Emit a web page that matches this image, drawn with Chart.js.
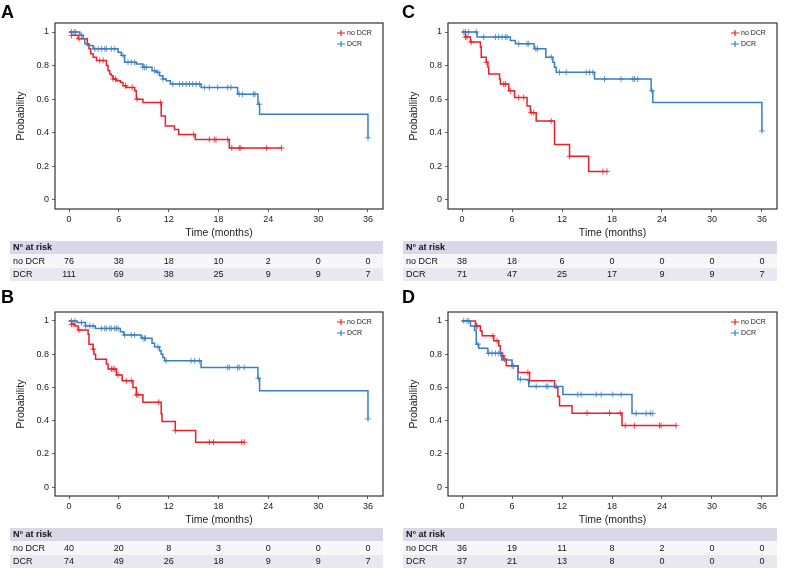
<!DOCTYPE html>
<html>
<head>
<meta charset="utf-8">
<script src="https://cdn.jsdelivr.net/npm/chart.js@4.4.0/dist/chart.umd.min.js"></script>
<style>
  body { margin: 0; background: #fff; width: 787px; height: 581px; position: relative; overflow: hidden; }
  canvas { position: absolute; }
</style>
</head>
<body>
<canvas id="chartA" width="393" height="288" style="left:0;top:0"></canvas>
<canvas id="chartC" width="394" height="288" style="left:393px;top:0"></canvas>
<canvas id="chartB" width="393" height="293" style="left:0;top:288px"></canvas>
<canvas id="chartD" width="394" height="293" style="left:393px;top:288px"></canvas>
<script>
// shared axis ticks
const xTicks = [0, 6, 12, 18, 24, 30, 36];
const yTicks = [0, 0.2, 0.4, 0.6, 0.8, 1];
const seriesNames = ['no DCR', 'DCR'];

// Panel A
const aNoTime = [0.3, 1.1, 2.2, 2.4, 2.6, 2.9, 3.3, 4.5, 4.7, 4.9, 5.1, 5.3, 5.7, 6.2, 6.5, 6.9, 7.9, 8.1, 8.9, 11.1, 11.6, 12.7, 13.2, 15.2, 19.3];
const aNoSurv = [0.98, 0.96, 0.93, 0.90, 0.87, 0.85, 0.83, 0.80, 0.77, 0.75, 0.74, 0.72, 0.71, 0.70, 0.68, 0.67, 0.65, 0.60, 0.58, 0.50, 0.44, 0.42, 0.39, 0.36, 0.31];
const aNoCens = [0.3, 1.2, 3.7, 4.1, 5.3, 5.6, 6.8, 7.6, 8.2, 11.0, 15.0, 16.9, 17.5, 17.7, 19.1, 19.6, 20.5, 20.7, 23.8, 25.6];
const aDcrTime = [1.3, 1.7, 1.9, 2.2, 2.9, 5.9, 6.3, 6.7, 8.1, 8.9, 10.0, 10.5, 10.9, 11.3, 11.7, 12.2, 15.9, 20.3, 22.75, 22.95, 36.0];
const aDcrSurv = [0.98, 0.96, 0.93, 0.92, 0.90, 0.88, 0.86, 0.82, 0.81, 0.79, 0.77, 0.76, 0.74, 0.72, 0.71, 0.69, 0.67, 0.63, 0.57, 0.51, 0.37];
const aDcrCens = [0.3, 0.6, 0.8, 1.5, 3.1, 3.5, 3.9, 4.3, 4.5, 5.1, 5.5, 6.5, 7.1, 7.5, 7.9, 8.9, 9.1, 9.3, 10.3, 10.7, 11.3, 12.5, 13.3, 13.7, 14.1, 14.5, 14.9, 15.3, 15.7, 16.3, 16.9, 17.9, 19.1, 19.5, 20.5, 20.9, 22.2, 22.4, 22.9, 36.0];
const aRiskNo = [76, 38, 18, 10, 2, 0, 0];
const aRiskDcr = [111, 69, 38, 25, 9, 9, 7];

// Panel B
const bNoTime = [0.3, 0.7, 1.1, 2.3, 2.4, 2.9, 3.0, 3.2, 4.5, 4.7, 5.7, 6.4, 7.7, 8.1, 8.9, 11.1, 11.2, 12.8, 15.25];
const bNoSurv = [0.98, 0.97, 0.945, 0.92, 0.86, 0.83, 0.80, 0.77, 0.74, 0.71, 0.675, 0.64, 0.60, 0.555, 0.51, 0.44, 0.395, 0.34, 0.27];
const bNoCens = [0.3, 0.5, 1.2, 2.9, 5.1, 5.3, 5.5, 5.9, 6.9, 7.5, 8.1, 8.3, 10.8, 12.8, 16.9, 17.4, 20.8, 21.1];
const bDcrTime = [0.96, 1.97, 3.17, 6.18, 6.58, 8.7, 10.0, 10.3, 10.9, 11.1, 11.3, 11.5, 15.9, 22.75, 22.95, 36.0];
const bDcrSurv = [0.99, 0.97, 0.955, 0.935, 0.915, 0.895, 0.865, 0.845, 0.82, 0.80, 0.78, 0.76, 0.72, 0.655, 0.58, 0.41];
const bDcrCens = [0.3, 0.7, 1.5, 2.0, 2.5, 2.9, 3.9, 4.3, 4.5, 4.9, 5.1, 5.5, 5.7, 5.9, 6.7, 7.5, 7.9, 8.9, 9.1, 9.2, 10.7, 11.7, 14.7, 15.1, 15.7, 19.1, 19.3, 20.3, 20.5, 21.1, 22.8, 36.0];
const bRiskNo = [40, 20, 8, 3, 0, 0, 0];
const bRiskDcr = [74, 49, 26, 18, 9, 9, 7];

// Panel C
const cNoTime = [0.4, 1.0, 2.2, 2.3, 2.9, 3.1, 3.2, 4.5, 4.6, 5.6, 6.3, 7.8, 8.2, 8.9, 11.1, 12.9, 15.2];
const cNoSurv = [0.97, 0.94, 0.91, 0.85, 0.82, 0.79, 0.75, 0.72, 0.69, 0.65, 0.61, 0.56, 0.52, 0.47, 0.33, 0.26, 0.17];
const cNoCens = [0.4, 0.6, 1.1, 2.9, 5.0, 5.2, 5.8, 6.8, 7.4, 8.3, 8.6, 10.7, 12.9, 16.9, 17.4];
const cDcrTime = [1.8, 5.8, 6.4, 8.65, 10.05, 10.9, 11.1, 11.3, 15.9, 22.7, 22.9, 36.0];
const cDcrSurv = [0.97, 0.95, 0.93, 0.90, 0.85, 0.82, 0.79, 0.76, 0.72, 0.65, 0.58, 0.41];
const cDcrCens = [0.2, 0.4, 0.8, 1.7, 2.6, 4.0, 4.4, 4.8, 5.2, 5.4, 6.8, 7.8, 8.0, 8.85, 9.05, 10.7, 11.7, 12.5, 14.9, 15.3, 15.7, 17.1, 19.1, 20.5, 20.7, 21.1, 22.8, 36.0];
const cRiskNo = [38, 18, 6, 0, 0, 0, 0];
const cRiskDcr = [71, 47, 25, 17, 9, 9, 7];

// Panel D
const dNoTime = [1.6, 2.2, 2.4, 3.8, 4.4, 4.6, 4.8, 5.0, 5.3, 6.75, 8.1, 11.1, 11.5, 11.7, 13.2, 19.2];
const dNoSurv = [0.97, 0.94, 0.91, 0.88, 0.85, 0.81, 0.79, 0.77, 0.73, 0.69, 0.64, 0.60, 0.545, 0.49, 0.445, 0.37];
const dNoCens = [1.7, 1.8, 3.7, 4.2, 4.9, 5.1, 6.0, 7.9, 8.1, 15.0, 17.7, 19.0, 19.6, 20.7, 23.7, 23.9, 25.7];
const dDcrTime = [1.0, 1.5, 1.7, 2.0, 3.1, 4.75, 6.0, 6.7, 8.0, 12.1, 20.4];
const dDcrSurv = [0.97, 0.944, 0.86, 0.835, 0.805, 0.765, 0.728, 0.648, 0.606, 0.557, 0.443];
const dDcrCens = [0.2, 0.6, 0.8, 1.9, 3.2, 3.6, 4.0, 4.4, 4.6, 6.2, 7.0, 8.9, 10.1, 10.3, 11.3, 13.9, 14.3, 16.1, 16.7, 18.1, 19.1, 20.9, 22.1, 22.6, 22.9];
const dRiskNo = [36, 19, 11, 8, 2, 0, 0];
const dRiskDcr = [37, 21, 13, 8, 0, 0, 0];

const RED = '#e8212b';
const BLUE = '#3a7fc3';
const FONT = "'Liberation Sans', Arial, sans-serif";
Chart.defaults.font.family = FONT;

// survival value at time t from the step data
function survAt(times, surv, t) {
    let s = 1;
    for (let i = 0; i < times.length; i++) {
        if (times[i] <= t) s = surv[i];
    }
    return s;
}

function stepPoints(times, surv, cens) {
    const pts = [{ x: 0, y: 1 }];
    times.forEach((t, i) => pts.push({ x: t, y: surv[i] }));
    const end = Math.max(times[times.length - 1], cens[cens.length - 1]);
    pts.push({ x: end, y: survAt(times, surv, end) });
    return pts;
}

function censorPoints(times, surv, cens) {
    return cens.map(t => ({ x: t, y: survAt(times, surv, t) }));
}

// box, legend, axis titles, risk table and panel letter
const panelPlugin = {
    id: 'kmPanel',
    afterDraw(chart, args, opts) {
        const ctx = chart.ctx;
        const area = chart.chartArea;
        const xs = chart.scales.x;
        ctx.save();

        ctx.strokeStyle = '#333';
        ctx.lineWidth = 1.2;
        ctx.strokeRect(area.left, area.top, area.right - area.left, area.bottom - area.top);

        // panel letter
        ctx.fillStyle = '#000';
        ctx.font = 'bold 18px ' + FONT;
        ctx.textAlign = 'left';
        ctx.textBaseline = 'alphabetic';
        ctx.fillText(opts.letter, opts.letterX, opts.letterY);

        // legend
        ctx.font = '7px ' + FONT;
        ctx.textBaseline = 'middle';
        [RED, BLUE].forEach((c, i) => {
            const ly = area.top + 10 + i * 11;
            const lx = area.right - 46;
            ctx.strokeStyle = c;
            ctx.lineWidth = 1.2;
            ctx.beginPath();
            ctx.moveTo(lx, ly); ctx.lineTo(lx + 8, ly);
            ctx.moveTo(lx + 4, ly - 3); ctx.lineTo(lx + 4, ly + 3);
            ctx.stroke();
            ctx.fillStyle = '#222';
            ctx.fillText(seriesNames[i], lx + 10, ly);
        });

        // axis titles
        ctx.fillStyle = '#222';
        ctx.font = '10.5px ' + FONT;
        ctx.textAlign = 'center';
        ctx.fillText('Time (months)', (area.left + area.right) / 2, area.bottom + 24);
        ctx.save();
        ctx.translate(21, (area.top + area.bottom) / 2);
        ctx.rotate(-Math.PI / 2);
        ctx.fillText('Probability', 0, 0);
        ctx.restore();

        // risk table
        const t0 = area.bottom + 32;
        const left = 10, right = area.right;
        ctx.fillStyle = '#d9d7e8';
        ctx.fillRect(left, t0, right - left, 13);
        ctx.fillStyle = '#f7f7fa';
        ctx.fillRect(left, t0 + 13, right - left, 14);
        ctx.fillStyle = '#e9e8f1';
        ctx.fillRect(left, t0 + 27, right - left, 13);

        ctx.fillStyle = '#111';
        ctx.textAlign = 'left';
        ctx.font = 'bold 9px ' + FONT;
        ctx.fillText('N\u00b0 at risk', 13, t0 + 7);
        ctx.font = '9px ' + FONT;
        const rows = [opts.riskNo, opts.riskDcr];
        rows.forEach((vals, r) => {
            const ry = t0 + 20.5 + r * 13.5;
            ctx.textAlign = 'left';
            ctx.fillText(seriesNames[r], 13, ry);
            ctx.textAlign = 'center';
            vals.forEach((v, i) => {
                ctx.fillText(String(v), xs.getPixelForValue(xTicks[i]), ry);
            });
        });
        ctx.restore();
    }
};

function makeChart(id, p) {
    const canvas = document.getElementById(id);
    const h = canvas.height;
    new Chart(canvas, {
        type: 'line',
        data: {
            datasets: [
                {
                    label: 'DCR',
                    data: stepPoints(p.dcrTime, p.dcrSurv, p.dcrCens),
                    borderColor: BLUE, borderWidth: 1.5, stepped: 'before',
                    pointRadius: 0, fill: false
                },
                {
                    label: 'DCR censored',
                    data: censorPoints(p.dcrTime, p.dcrSurv, p.dcrCens),
                    showLine: false, pointStyle: 'cross', pointRadius: 3,
                    pointBorderColor: 'rgba(58,127,195,0.8)', pointBorderWidth: 1
                },
                {
                    label: 'no DCR',
                    data: stepPoints(p.noTime, p.noSurv, p.noCens),
                    borderColor: RED, borderWidth: 1.5, stepped: 'before',
                    pointRadius: 0, fill: false
                },
                {
                    label: 'no DCR censored',
                    data: censorPoints(p.noTime, p.noSurv, p.noCens),
                    showLine: false, pointStyle: 'cross', pointRadius: 3,
                    pointBorderColor: 'rgba(232,33,43,0.8)', pointBorderWidth: 1
                }
            ]
        },
        options: {
            responsive: false,
            animation: false,
            layout: { padding: { top: p.top, right: canvas.width - 383 - (canvas.width - 393), left: 0, bottom: 0 } },
            plugins: {
                legend: { display: false },
                tooltip: { enabled: false },
                kmPanel: {
                    letter: p.letter, letterX: p.letterX, letterY: p.letterY,
                    riskNo: p.riskNo, riskDcr: p.riskDcr
                }
            },
            scales: {
                x: {
                    type: 'linear', min: -1.69, max: 37.81,
                    afterBuildTicks: s => { s.ticks = xTicks.map(v => ({ value: v })); },
                    afterFit: s => { s.height = h - p.bottom; },
                    grid: { drawOnChartArea: false, drawTicks: true, tickLength: 3, color: '#666' },
                    border: { display: false },
                    ticks: { font: { size: 9 }, color: '#222', padding: 2, maxRotation: 0 }
                },
                y: {
                    type: 'linear', min: -0.0536, max: 1.0536,
                    afterBuildTicks: s => { s.ticks = yTicks.map(v => ({ value: v })); },
                    afterFit: s => { s.width = 55; },
                    grid: { drawOnChartArea: false, drawTicks: true, tickLength: 3, color: '#666' },
                    border: { display: false },
                    ticks: { font: { size: 9 }, color: '#222', padding: 3, callback: v => String(v) }
                }
            }
        },
        plugins: [panelPlugin]
    });
}

makeChart('chartA', {
    letter: 'A', letterX: 1, letterY: 18, top: 23, bottom: 209,
    noTime: aNoTime, noSurv: aNoSurv, noCens: aNoCens,
    dcrTime: aDcrTime, dcrSurv: aDcrSurv, dcrCens: aDcrCens,
    riskNo: aRiskNo, riskDcr: aRiskDcr
});
makeChart('chartC', {
    letter: 'C', letterX: 9, letterY: 18, top: 23, bottom: 209,
    noTime: cNoTime, noSurv: cNoSurv, noCens: cNoCens,
    dcrTime: cDcrTime, dcrSurv: cDcrSurv, dcrCens: cDcrCens,
    riskNo: cRiskNo, riskDcr: cRiskDcr
});
makeChart('chartB', {
    letter: 'B', letterX: 1, letterY: 15, top: 24, bottom: 208,
    noTime: bNoTime, noSurv: bNoSurv, noCens: bNoCens,
    dcrTime: bDcrTime, dcrSurv: bDcrSurv, dcrCens: bDcrCens,
    riskNo: bRiskNo, riskDcr: bRiskDcr
});
makeChart('chartD', {
    letter: 'D', letterX: 9, letterY: 15, top: 24, bottom: 208,
    noTime: dNoTime, noSurv: dNoSurv, noCens: dNoCens,
    dcrTime: dDcrTime, dcrSurv: dDcrSurv, dcrCens: dDcrCens,
    riskNo: dRiskNo, riskDcr: dRiskDcr
});
</script>
</body>
</html>
